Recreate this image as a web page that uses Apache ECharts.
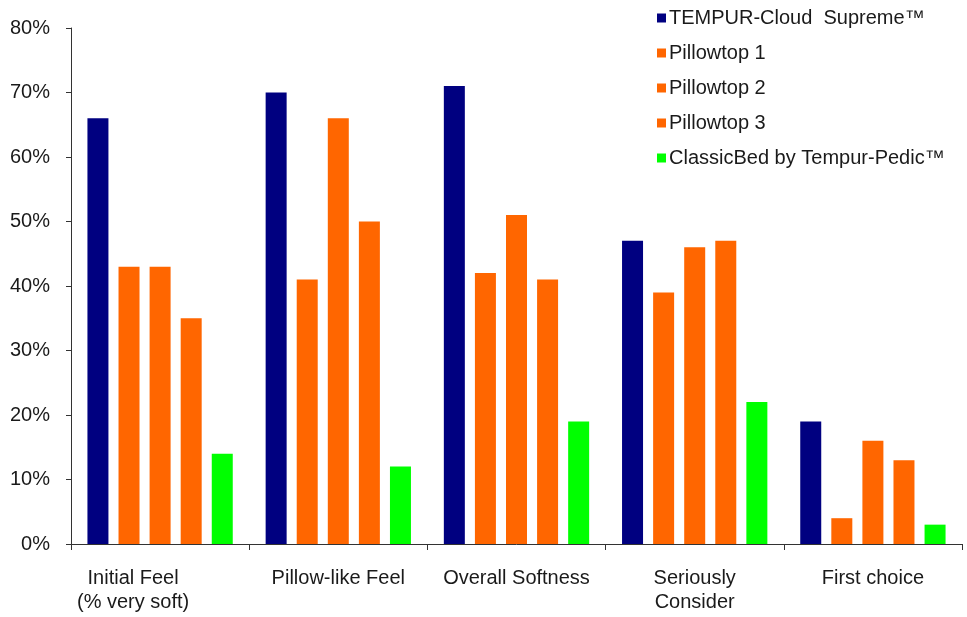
<!DOCTYPE html>
<html>
<head>
<meta charset="utf-8">
<script src="https://cdn.jsdelivr.net/npm/echarts@6/dist/echarts.min.js"></script>
<style>
html, body { margin: 0; padding: 0; background: #fff; }
#chart { width: 967px; height: 617px; }
</style>
</head>
<body>
<div id="chart"></div>
<script>
// categories and series values (percent)
var categories = ['Initial Feel\n(% very soft)', 'Pillow-like Feel', 'Overall Softness', 'Seriously\nConsider', 'First choice'];
var seriesNames = ['TEMPUR-Cloud  Supreme\u2122', 'Pillowtop 1', 'Pillowtop 2', 'Pillowtop 3', 'ClassicBed by Tempur-Pedic\u2122'];
var cloudSupreme = [66, 70, 71, 47, 19];
var pillowtop1 = [43, 41, 42, 39, 4];
var pillowtop2 = [43, 66, 51, 46, 16];
var pillowtop3 = [35, 50, 41, 47, 13];
var classicBed = [14, 12, 19, 22, 3];
var colors = ['#000080', '#FF6600', '#FF6600', '#FF6600', '#00FF00'];

var allValues = [cloudSupreme, pillowtop1, pillowtop2, pillowtop3, classicBed];

var font = 'Liberation Sans, Arial, sans-serif';

var series = [];
for (var i = 0; i < seriesNames.length; i++) {
	series.push({
		name: seriesNames[i],
		type: 'bar',
		data: allValues[i],
		barWidth: 21,
		barGap: '48%',
		itemStyle: { color: colors[i] },
		emphasis: { disabled: true }
	});
}

// first label sits a bit left of its category centre in the original
var xData = categories.map(function(c, idx) {
	if (idx === 0) {
		return { value: c, textStyle: { padding: [0, 54, 0, 0] } };
	}
	return c;
});

var myChart = echarts.init(document.getElementById('chart'));
var option = {
	backgroundColor: '#ffffff',
	animation: false,
	textStyle: { fontFamily: font },
	grid: { left: 71, right: 5, top: 28, bottom: 73, containLabel: false },
	legend: {
		orient: 'vertical',
		left: 652,
		top: 3,
		itemWidth: 9,
		itemHeight: 9,
		itemGap: 15,
		icon: 'rect',
		textStyle: { fontFamily: font, fontSize: 20, color: '#1a1a1a', padding: [0, 0, 0, -2] },
		data: seriesNames
	},
	xAxis: {
		type: 'category',
		data: xData,
		axisLine: { lineStyle: { color: '#333', width: 1 } },
		axisTick: { show: true, length: 6, lineStyle: { color: '#333' } },
		axisLabel: {
			fontFamily: font,
			fontSize: 20,
			color: '#1a1a1a',
			margin: 22,
			lineHeight: 24,
			interval: 0
		}
	},
	yAxis: {
		type: 'value',
		min: 0,
		max: 80,
		interval: 10,
		splitLine: { show: false },
		axisLine: { show: true, lineStyle: { color: '#333', width: 1 } },
		axisTick: { show: true, length: 5, lineStyle: { color: '#333' } },
		axisLabel: {
			fontFamily: font,
			fontSize: 20,
			color: '#1a1a1a',
			margin: 21,
			formatter: '{value}%'
		}
	},
	series: series
};
myChart.setOption(option);
</script>
</body>
</html>
